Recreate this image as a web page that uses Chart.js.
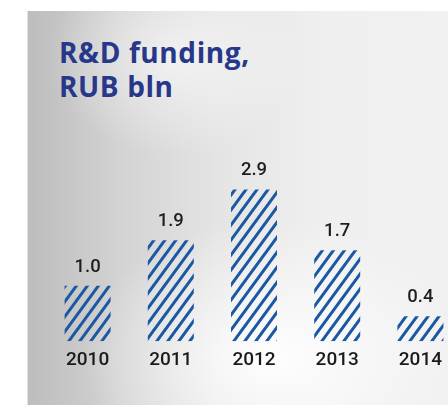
<!DOCTYPE html>
<html>
<head>
<meta charset="utf-8">
<script src="https://cdn.jsdelivr.net/npm/chart.js@4.4.1/dist/chart.umd.min.js"></script>
<style>
    html, body {
        margin: 0;
        padding: 0;
        width: 448px;
        height: 405px;
        overflow: hidden;
        background: #ffffff;
    }
    .panel {
        position: absolute;
        left: 27px;
        top: 11px;
        right: 0;
        bottom: 0;
        background:
            radial-gradient(ellipse 45% 35% at 58% 88%, rgba(255,255,255,0.95), rgba(255,255,255,0) 100%),
            radial-gradient(ellipse 30% 25% at 35% 12%, rgba(255,255,255,0.6), rgba(255,255,255,0) 100%),
            linear-gradient(to right, #bdbdbd 0%, #d3d3d3 22%, #e4e4e4 45%, #efefef 70%, #f1f1f1 100%);
        border-left: 1px solid #e2e2e2;
    }
    .title {
        position: absolute;
        left: 59px;
        top: 35px;
        margin: 0;
        font-family: "Open Sans", sans-serif;
        font-weight: 700;
        font-size: 28px;
        line-height: 34px;
        color: #27388a;
        letter-spacing: 0.6px;
    }
    #wrap {
        position: absolute;
        left: 0;
        top: 0;
        width: 470px;
        height: 405px;
    }
</style>
</head>
<body>
<div class="panel"></div>
<h1 class="title">R&amp;D funding,<br>RUB bln</h1>
<div id="wrap"><canvas id="rdChart"></canvas></div>
<script>
// Datos del gráfico
const years = ['2010', '2011', '2012', '2013', '2014'];
const funding = [1.0, 1.9, 2.9, 1.7, 0.4];

const STRIPE_COLOR = '#1b58a4';

// Patrón de rayas diagonales para las barras
function makeHatch() {
    const w = 11, h = 15;
    const c = document.createElement('canvas');
    c.width = w;
    c.height = h;
    const ctx = c.getContext('2d');
    ctx.strokeStyle = STRIPE_COLOR;
    ctx.lineWidth = 3;
    ctx.lineCap = 'square';
    [-w, 0, w].forEach(x0 => {
        ctx.beginPath();
        ctx.moveTo(x0, h);
        ctx.lineTo(x0 + w, 0);
        ctx.stroke();
    });
    return document.createElement('canvas').getContext('2d').createPattern(c, 'repeat');
}

// Etiquetas de valor sobre cada barra
const valueLabels = {
    id: 'valueLabels',
    afterDatasetsDraw(chart) {
        const ctx = chart.ctx;
        const meta = chart.getDatasetMeta(0);
        ctx.save();
        ctx.font = '500 18.5px Roboto, sans-serif';
        ctx.fillStyle = '#1e1e1e';
        ctx.textAlign = 'center';
        ctx.textBaseline = 'alphabetic';
        meta.data.forEach((bar, i) => {
            ctx.fillText(funding[i].toFixed(1), bar.x, bar.y - 14);
        });
        ctx.restore();
    }
};

const baseValue = -0.09;

new Chart(document.getElementById('rdChart'), {
    type: 'bar',
    data: {
        labels: years,
        datasets: [{
            data: funding,
            base: baseValue,
            backgroundColor: makeHatch(),
            borderWidth: 0,
            categoryPercentage: 0.553,
            barPercentage: 1.0
        }]
    },
    options: {
        responsive: true,
        maintainAspectRatio: false,
        animation: false,
        layout: {
            padding: { left: 46, right: 8, top: 130, bottom: 25 }
        },
        plugins: {
            legend: { display: false },
            title: { display: false },
            tooltip: { enabled: false }
        },
        scales: {
            y: {
                display: false,
                min: baseValue,
                max: 4.07
            },
            x: {
                grid: { display: false, drawTicks: false },
                border: { display: false },
                ticks: {
                    color: '#1a1a1a',
                    padding: 8,
                    font: { family: 'Roboto', size: 19, weight: '500' }
                }
            }
        }
    },
    plugins: [valueLabels]
});
</script>
</body>
</html>
